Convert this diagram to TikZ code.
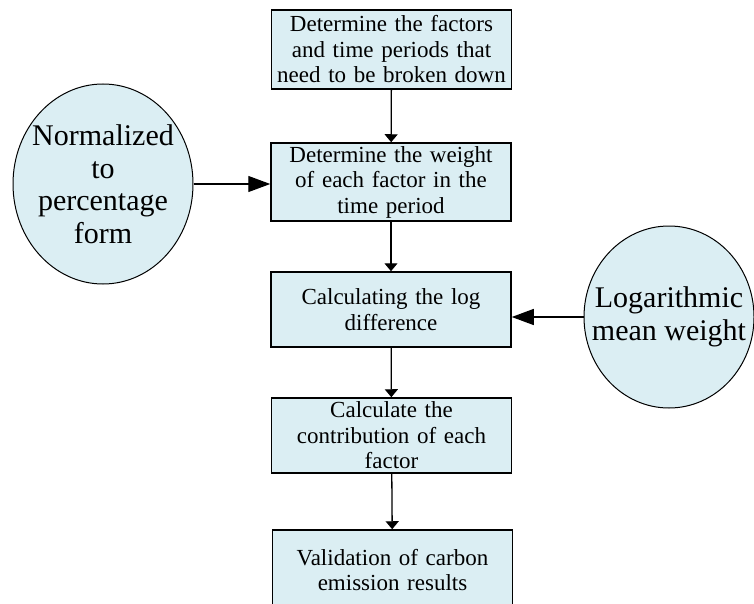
\documentclass[tikz,border=0pt]{standalone}
\usepackage{fontspec}
\setmainfont{Liberation Serif}
\usetikzlibrary{shapes.geometric, arrows.meta, positioning}
\definecolor{boxcolor}{RGB}{219,238,243}

\begin{document}
\begin{tikzpicture}[x=1pt, y=-1pt,
    stepbox/.style={rectangle, draw, line width=1.5pt, fill=boxcolor, text width=240pt,
                    align=center, inner sep=0pt, font=\fontsize{23}{25.5}\selectfont},
    weightnode/.style={ellipse, draw, line width=1pt, fill=boxcolor, align=center,
                       inner sep=-30pt, font=\fontsize{30}{32.5}\selectfont},
    flow/.style={draw, line width=1.3pt, -{Triangle[length=8pt, width=13pt]}},
    side/.style={draw, line width=1.3pt, -{Triangle[length=22pt, width=16pt]}}
]
\useasboundingbox (0,0) rectangle (754,604);
\clip (0,0) rectangle (754,604);

% main steps
\node[stepbox, minimum height=79pt] (factors) at (391.5,49.5)
    {Determine the factors\\and time periods that\\need to be broken down};
\node[stepbox, minimum height=78pt] (weight) at (391,182)
    {Determine the weight\\of each factor in the\\time period};
\node[stepbox, minimum height=75pt] (logdiff) at (391,309.5)
    {Calculating the log\\difference};
\node[stepbox, minimum height=75pt] (contrib) at (391.5,435.5)
    {Calculate the\\contribution of each\\factor};
\node[stepbox, minimum height=80pt] (valid) at (392.5,570)
    {Validation of carbon\\emission results};

% side inputs
\node[weightnode, minimum width=180pt, minimum height=200pt] (norm) at (103,184)
    {Normalized\\to\\percentage\\form};
\node[weightnode, minimum width=170pt, minimum height=182pt] (logmean) at (669,317)
    {Logarithmic\\mean weight};

% connectors
\draw[flow] (factors) -- (weight);
\draw[flow] (weight) -- (logdiff);
\draw[flow] (logdiff) -- (contrib);
\draw[flow] (contrib) -- (valid);
\draw[side] (norm) -- (norm -| weight.west);
\draw[side] (logmean) -- (logmean -| logdiff.east);

\end{tikzpicture}
\end{document}
